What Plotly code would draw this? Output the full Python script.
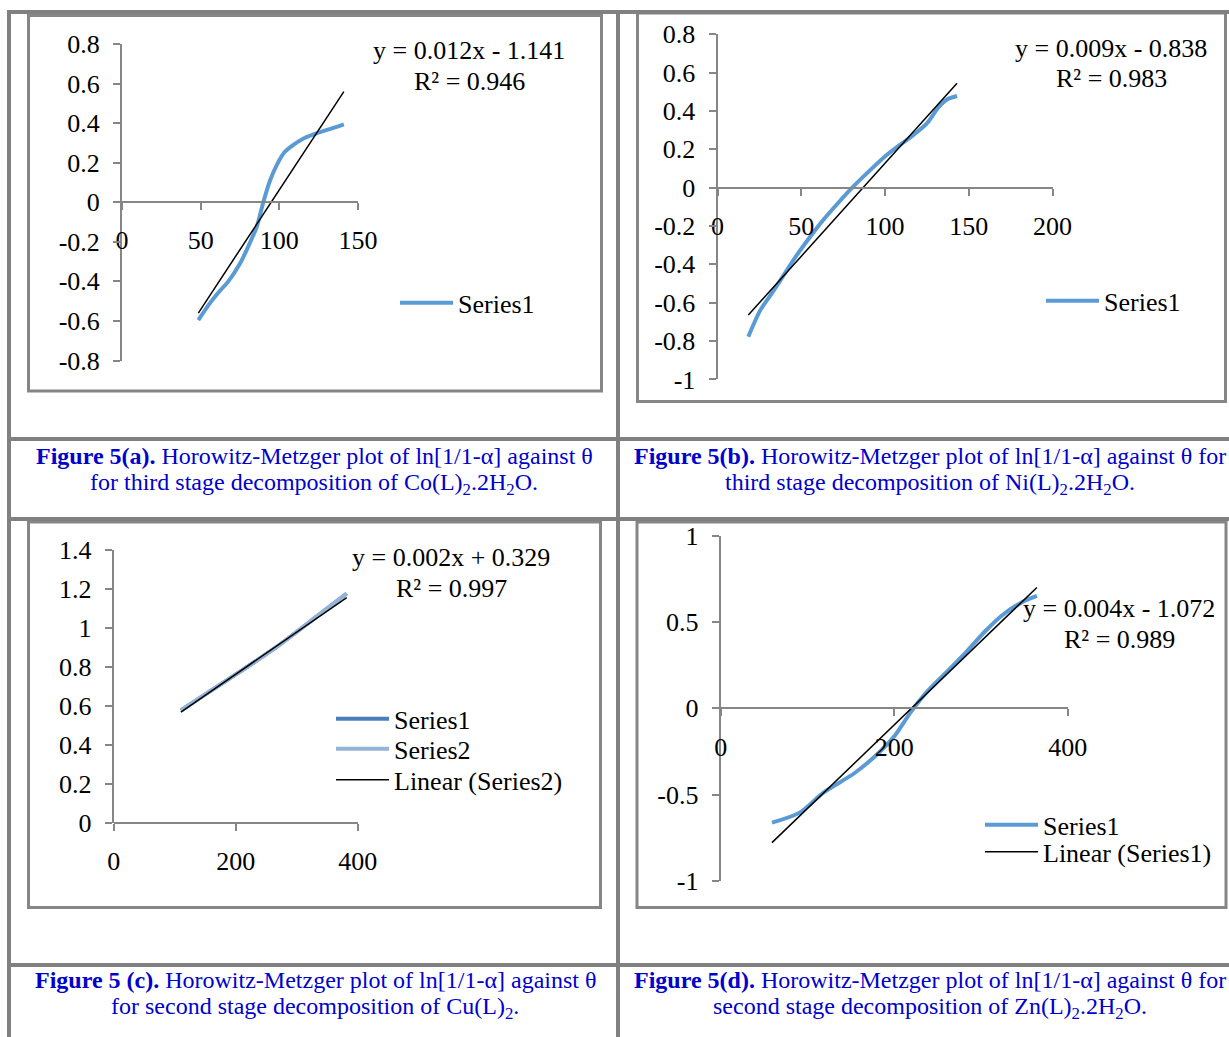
import numpy as np
import plotly.graph_objects as go

W, H = 1229, 1037
FONT = "Liberation Serif, Times New Roman, serif"

# ---------------- data ----------------
theta_a = [48.5, 55.9, 62.0, 67.6, 75.0, 79.3, 85.6, 89.8, 94.1, 98.5, 103.0, 108.9, 116.0, 124.0, 132.0, 141.0]
ln_a = [-0.596, -0.51, -0.45, -0.40, -0.31, -0.24, -0.125, 0.0, 0.11, 0.19, 0.25, 0.29, 0.325, 0.35, 0.37, 0.394]
trend_a = (0.0121, -1.147)
eq_a = ["y = 0.012x - 1.141", "R² = 0.946"]

theta_b = [18.4, 25.5, 32.5, 40.0, 46.7, 55.0, 63.0, 72.0, 81.0, 91.0, 101.0, 110.0, 117.0, 125.0, 132.0, 137.0, 143.0]
ln_b = [-0.777, -0.64, -0.55, -0.45, -0.36, -0.26, -0.17, -0.08, 0.005, 0.09, 0.17, 0.23, 0.275, 0.335, 0.42, 0.46, 0.478]
trend_b = (0.0097, -0.843)
eq_b = ["y = 0.009x - 0.838", "R² = 0.983"]

theta_c = [110, 150, 202, 267, 332, 382]
ln_c1 = [0.577, 0.66, 0.766, 0.903, 1.057, 1.177]
ln_c2 = [0.577, 0.66, 0.766, 0.903, 1.057, 1.177]
trend_c = (0.00216, 0.331)
eq_c = ["y = 0.002x + 0.329", "R² = 0.997"]

theta_d = [59.1, 91.0, 118.4, 154.8, 182.3, 200.4, 218.7, 236.9, 259.7, 282.4, 305.2, 323.5, 346.2, 364.5]
ln_d = [-0.662, -0.604, -0.488, -0.373, -0.257, -0.16, -0.025, 0.091, 0.207, 0.323, 0.448, 0.535, 0.612, 0.651]
trend_d = (0.00484, -1.064)
eq_d = ["y = 0.004x - 1.072", "R² = 0.989"]

ticks_a_y = [-0.8, -0.6, -0.4, -0.2, 0, 0.2, 0.4, 0.6, 0.8]
ticks_a_ytext = ["-0.8", "-0.6", "-0.4", "-0.2", "0", "0.2", "0.4", "0.6", "0.8"]
ticks_a_x = [0, 50, 100, 150]
ticks_a_xtext = ["0", "50", "100", "150"]
ticks_b_y = [-1, -0.8, -0.6, -0.4, -0.2, 0, 0.2, 0.4, 0.6, 0.8]
ticks_b_ytext = ["-1", "-0.8", "-0.6", "-0.4", "-0.2", "0", "0.2", "0.4", "0.6", "0.8"]
ticks_b_x = [0, 50, 100, 150, 200]
ticks_b_xtext = ["0", "50", "100", "150", "200"]
ticks_c_y = [0, 0.2, 0.4, 0.6, 0.8, 1.0, 1.2, 1.4]
ticks_c_ytext = ["0", "0.2", "0.4", "0.6", "0.8", "1", "1.2", "1.4"]
ticks_c_x = [0, 200, 400]
ticks_c_xtext = ["0", "200", "400"]
ticks_d_y = [-1, -0.5, 0, 0.5, 1]
ticks_d_ytext = ["-1", "-0.5", "0", "0.5", "1"]
ticks_d_x = [0, 200, 400]
ticks_d_xtext = ["0", "200", "400"]

captions = [
    ("<b>Figure 5(a).</b> Horowitz-Metzger plot of ln[1/1-α] against θ",
     "for third stage decomposition of Co(L)<sub>2</sub>.2H<sub>2</sub>O."),
    ("<b>Figure 5(b).</b> Horowitz-Metzger plot of ln[1/1-α] against θ for",
     "third stage decomposition of Ni(L)<sub>2</sub>.2H<sub>2</sub>O."),
    ("<b>Figure 5 (c).</b> Horowitz-Metzger plot of ln[1/1-α] against θ",
     "for second stage decomposition of Cu(L)<sub>2</sub>."),
    ("<b>Figure 5(d).</b> Horowitz-Metzger plot of ln[1/1-α] against θ for",
     "second stage decomposition of Zn(L)<sub>2</sub>.2H<sub>2</sub>O."),
]

# ---------------- layout helpers (pixel geometry) ----------------
def fx(px):
    return px / W

def fy(py):
    return 1 - py / H

BLUE = "#5B9BD5"
AX = "#868686"

fig = go.Figure()

def trend(xs, coef):
    x = np.array([min(xs), max(xs)], dtype=float)
    return x, coef[0] * x + coef[1]

panels = {
    "a": dict(xp=(122, 358), yp=(44, 360.5), xr=(0, 150), yr=(-0.8, 0.8),
              ty=(ticks_a_y, ticks_a_ytext), tx=(ticks_a_x, ticks_a_xtext)),
    "b": dict(xp=(717.5, 1052.5), yp=(34.3, 379.4), xr=(0, 200), yr=(-1, 0.8),
              ty=(ticks_b_y, ticks_b_ytext), tx=(ticks_b_x, ticks_b_xtext)),
    "c": dict(xp=(113.8, 357.7), yp=(550, 823), xr=(0, 400), yr=(0, 1.4),
              ty=(ticks_c_y, ticks_c_ytext), tx=(ticks_c_x, ticks_c_xtext)),
    "d": dict(xp=(720.7, 1067.7), yp=(535.7, 881), xr=(0, 400), yr=(-1, 1),
              ty=(ticks_d_y, ticks_d_ytext), tx=(ticks_d_x, ticks_d_xtext)),
}

tickfont = dict(family=FONT, size=26, color="black")
for i, (k, p) in enumerate(panels.items(), start=1):
    sx = "" if i == 1 else str(i)
    ydom = (fy(p["yp"][1]), fy(p["yp"][0]))
    y0 = p["yr"][0]; y1 = p["yr"][1]
    zero_pos = ydom[0] + (0 - y0) / (y1 - y0) * (ydom[1] - ydom[0])
    fig.layout["xaxis" + sx] = dict(
        domain=[fx(p["xp"][0]), fx(p["xp"][1])], range=list(p["xr"]),
        anchor="free", position=zero_pos, showline=True, linecolor=AX, linewidth=2,
        ticks="outside", ticklen=7, tickwidth=2, tickcolor=AX, showgrid=False,
        zeroline=False, tickvals=p["tx"][0], ticktext=p["tx"][1], tickfont=tickfont,
        ticklabelstandoff=8, fixedrange=True, automargin=False)
    fig.layout["yaxis" + sx] = dict(
        domain=list(ydom), range=list(p["yr"]), anchor="x" + sx,
        showline=True, linecolor=AX, linewidth=2, ticks="outside", ticklen=7,
        tickwidth=2, tickcolor=AX, showgrid=False, zeroline=False,
        tickvals=p["ty"][0], ticktext=p["ty"][1], tickfont=tickfont,
        ticklabelstandoff=8, fixedrange=True, automargin=False)

# ---------------- traces ----------------
fig.add_trace(go.Scatter(x=theta_a, y=ln_a, mode="lines", name="Series1",
                         line=dict(color=BLUE, width=4, shape="spline", smoothing=0.8),
                         xaxis="x", yaxis="y", legend="legend"))
tx, ty = trend(theta_a, trend_a)
fig.add_trace(go.Scatter(x=tx, y=ty, mode="lines", showlegend=False,
                         line=dict(color="black", width=1.5), xaxis="x", yaxis="y"))

fig.add_trace(go.Scatter(x=theta_b, y=ln_b, mode="lines", name="Series1",
                         line=dict(color=BLUE, width=4, shape="spline", smoothing=0.8),
                         xaxis="x2", yaxis="y2", legend="legend2"))
tx, ty = trend(theta_b, trend_b)
fig.add_trace(go.Scatter(x=tx, y=ty, mode="lines", showlegend=False,
                         line=dict(color="black", width=1.5), xaxis="x2", yaxis="y2"))

fig.add_trace(go.Scatter(x=theta_c, y=ln_c1, mode="lines", name="Series1",
                         line=dict(color="#4A7EBB", width=4, shape="spline", smoothing=0.8),
                         xaxis="x3", yaxis="y3", legend="legend3"))
fig.add_trace(go.Scatter(x=theta_c, y=ln_c2, mode="lines", name="Series2",
                         line=dict(color="#95B3D7", width=4, shape="spline", smoothing=0.8),
                         xaxis="x3", yaxis="y3", legend="legend4"))
tx, ty = trend(theta_c, trend_c)
fig.add_trace(go.Scatter(x=tx, y=ty, mode="lines", name="Linear (Series2)",
                         line=dict(color="black", width=1.5), xaxis="x3", yaxis="y3",
                         legend="legend5"))

fig.add_trace(go.Scatter(x=theta_d, y=ln_d, mode="lines", name="Series1",
                         line=dict(color=BLUE, width=4, shape="spline", smoothing=0.8),
                         xaxis="x4", yaxis="y4", legend="legend6"))
tx, ty = trend(theta_d, trend_d)
fig.add_trace(go.Scatter(x=tx, y=ty, mode="lines", name="Linear (Series1)",
                         line=dict(color="black", width=1.5), xaxis="x4", yaxis="y4",
                         legend="legend7"))

legfont = dict(family=FONT, size=26, color="black")
def leg(line_x, line_y):
    return dict(x=fx(line_x - 7), y=fy(line_y - 24.6), xanchor="left", yanchor="top",
                font=legfont, bgcolor="rgba(0,0,0,0)", borderwidth=0,
                tracegroupgap=0, itemwidth=53)
fig.update_layout(legend=leg(402, 304), legend2=leg(1048, 302),
                  legend3=leg(338, 720), legend4=leg(338, 750), legend5=leg(338, 781),
                  legend6=leg(987, 826), legend7=leg(987, 853))

# ---------------- shapes: table grid and chart frames ----------------
GRID = "#808080"
shapes = []
def line(x0, y0, x1, y1, w, c):
    shapes.append(dict(type="line", xref="paper", yref="paper", x0=fx(x0), y0=fy(y0),
                       x1=fx(x1), y1=fy(y1), line=dict(color=c, width=w), layer="below"))
def rect(x0, y0, x1, y1, w, c):
    shapes.append(dict(type="rect", xref="paper", yref="paper", x0=fx(x0), y0=fy(y0),
                       x1=fx(x1), y1=fy(y1), line=dict(color=c, width=w), layer="below"))

rect(28.5, 15.5, 601.5, 391, 3, AX)
rect(637.5, 13, 1225.5, 401.5, 3, AX)
rect(28.5, 522, 600.5, 907.5, 3, AX)
rect(637, 522, 1226, 907.5, 3, AX)
line(9, 12, 1229, 12, 4, GRID)
line(9, 10, 9, 1037, 4, GRID)
line(618, 10, 618, 1037, 4, GRID)
line(7, 439, 1229, 439, 4, GRID)
line(7, 519, 1229, 519, 4, GRID)
line(7, 965, 1229, 965, 4, GRID)
fig.update_layout(shapes=shapes)

# ---------------- annotations ----------------
ann = []
def text(s, xpx, ypx, size, color="black", xanchor="center"):
    ann.append(dict(text=s, x=fx(xpx), y=fy(ypx), xref="paper", yref="paper",
                    xanchor=xanchor, yanchor="middle", showarrow=False,
                    font=dict(family=FONT, size=size, color=color)))

for eq, (cx, cy) in zip([eq_a, eq_b, eq_c, eq_d],
                        [(469, 50), (1111, 48), (451, 557), (1119, 608)]):
    text(eq[0], cx, cy, 26)
    text(eq[1], cx, cy + 31, 26)

CAP = "#0000CC"
for (l1, l2), (cx, cy) in zip(captions, [(314, 456), (930, 456), (315, 980), (930, 980)]):
    text(l1, cx, cy, 24, CAP)
    text(l2, cx, cy + 28, 24, CAP)
fig.update_layout(annotations=ann)

fig.update_layout(width=W, height=H,
                  margin=dict(l=0, r=0, t=0, b=0, pad=0, autoexpand=False),
                  paper_bgcolor="white", plot_bgcolor="rgba(0,0,0,0)",
                  showlegend=True, font=dict(family=FONT))

fig.write_html("out.html", config={"displayModeBar": False})
